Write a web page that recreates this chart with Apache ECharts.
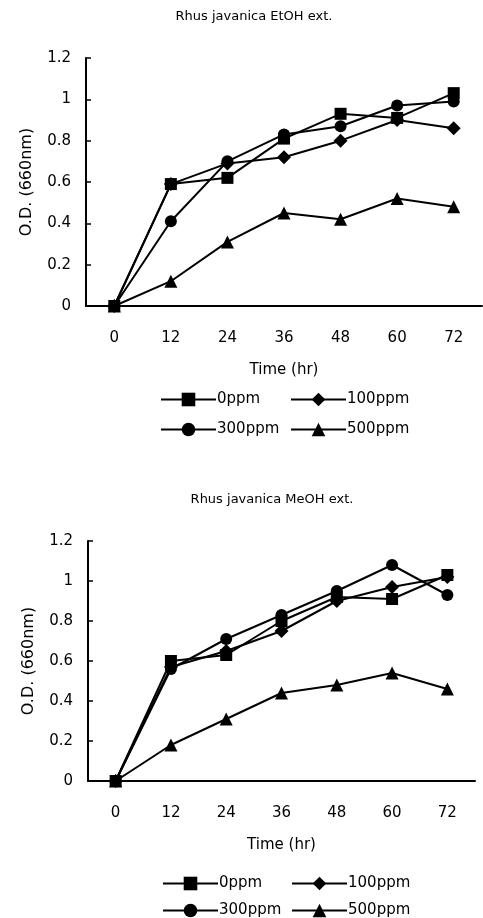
<!DOCTYPE html>
<html>
<head>
<meta charset="utf-8">
<script src="https://cdn.jsdelivr.net/npm/echarts@6/dist/echarts.min.js"></script>
<style>
html, body { margin: 0; padding: 0; background: #fff; }
#main { width: 483px; height: 918px; }
</style>
</head>
<body>
<div id="main"></div>
<script>
var hours = ['0', '12', '24', '36', '48', '60', '72'];
var names = ['0ppm', '100ppm', '300ppm', '500ppm'];
var symbols = ['rect', 'diamond', 'circle', 'triangle'];
var symSizes = [12, 14, 12, 13];

// EtOH ext.
var etoh0 = [0, 0.59, 0.62, 0.81, 0.93, 0.91, 1.03];
var etoh100 = [0, 0.59, 0.69, 0.72, 0.80, 0.90, 0.86];
var etoh300 = [0, 0.41, 0.70, 0.83, 0.87, 0.97, 0.99];
var etoh500 = [0, 0.12, 0.31, 0.45, 0.42, 0.52, 0.48];

// MeOH ext.
var meoh0 = [0, 0.60, 0.63, 0.80, 0.92, 0.91, 1.03];
var meoh100 = [0, 0.57, 0.65, 0.75, 0.90, 0.97, 1.02];
var meoh300 = [0, 0.56, 0.71, 0.83, 0.95, 1.08, 0.93];
var meoh500 = [0, 0.18, 0.31, 0.44, 0.48, 0.54, 0.46];

var font = 'DejaVu Sans';

function makeSeries(idx, datas) {
    var list = [];
    for (var i = 0; i < datas.length; i++) {
        list.push({
            name: names[i],
            type: 'line',
            xAxisIndex: idx,
            yAxisIndex: idx,
            data: datas[i],
            symbol: symbols[i],
            symbolSize: symSizes[i],
            showSymbol: true,
            lineStyle: { color: '#000', width: 2 },
            itemStyle: { color: '#000' },
            animation: false
        });
    }
    return list;
}

function xAx(idx) {
    return {
        type: 'category',
        gridIndex: idx,
        data: hours,
        boundaryGap: true,
        name: 'Time (hr)',
        nameLocation: 'middle',
        nameGap: 57,
        nameTextStyle: { fontFamily: font, fontSize: 15, color: '#000' },
        axisLine: { lineStyle: { color: '#000', width: 2 } },
        axisTick: { inside: true, length: 5, lineStyle: { color: '#000', width: 1.5 } },
        axisLabel: { fontFamily: font, fontSize: 15, color: '#000', margin: 25 },
        splitLine: { show: false }
    };
}

function yAx(idx) {
    return {
        type: 'value',
        gridIndex: idx,
        min: 0,
        max: 1.2,
        interval: 0.2,
        name: 'O.D. (660nm)',
        nameLocation: 'middle',
        nameGap: 51,
        nameTextStyle: { fontFamily: font, fontSize: 16, color: '#000' },
        axisLine: { show: true, lineStyle: { color: '#000', width: 2 } },
        axisTick: { show: true, inside: true, length: 5, lineStyle: { color: '#000', width: 1.5 } },
        axisLabel: { fontFamily: font, fontSize: 15, color: '#000', margin: 15 },
        splitLine: { show: false }
    };
}

function legend(left, top, data, gap) {
    return {
        orient: 'vertical',
        left: left,
        top: top,
        height: 60,
        padding: 0,
        data: data,
        itemWidth: 55,
        itemHeight: 17,
        itemGap: gap,
        selectedMode: false,
        textStyle: { fontFamily: font, fontSize: 15, color: '#000', padding: [0, 0, 0, -4] }
    };
}

var mychart = echarts.init(document.getElementById('main'));
var option = {
    backgroundColor: '#fff',
    animation: false,
    title: [
        { text: 'Rhus javanica EtOH ext.', left: 249, top: 5, textAlign: 'center',
          textStyle: { fontFamily: font, fontSize: 13, fontWeight: 'normal', color: '#000' } },
        { text: 'Rhus javanica MeOH ext.', left: 267, top: 488, textAlign: 'center',
          textStyle: { fontFamily: font, fontSize: 13, fontWeight: 'normal', color: '#000' } }
    ],
    legend: [
        legend(160, 392, ['0ppm', '300ppm'], 15),
        legend(290, 392, ['100ppm', '500ppm'], 15),
        legend(162, 876, ['0ppm', '300ppm'], 12),
        legend(291, 876, ['100ppm', '500ppm'], 12)
    ],
    grid: [
        { left: 86, right: 1, top: 58, height: 248 },
        { left: 88, right: 8, top: 541, height: 240 }
    ],
    xAxis: [xAx(0), xAx(1)],
    yAxis: [yAx(0), yAx(1)],
    series: makeSeries(0, [etoh0, etoh100, etoh300, etoh500])
        .concat(makeSeries(1, [meoh0, meoh100, meoh300, meoh500]))
};
mychart.setOption(option);
</script>
</body>
</html>
